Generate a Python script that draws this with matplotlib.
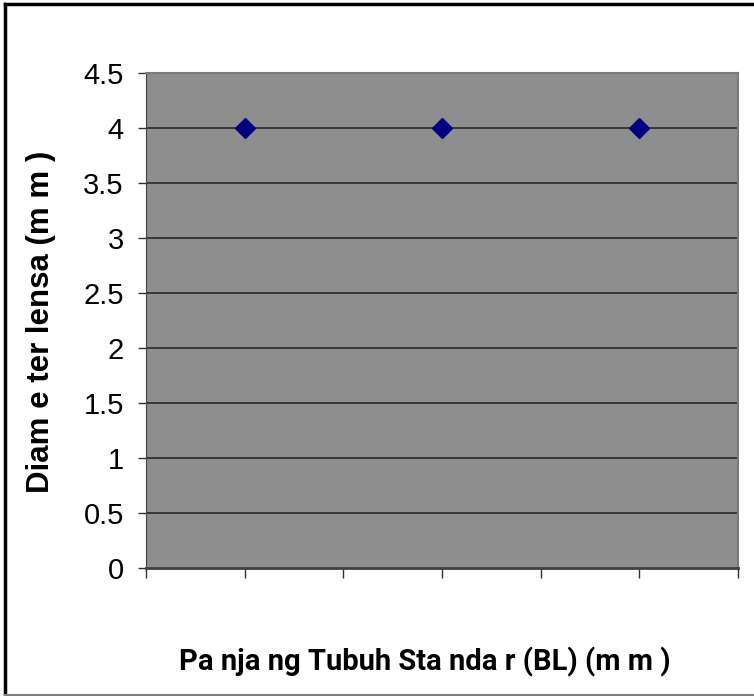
import matplotlib.pyplot as plt
from matplotlib.lines import Line2D

# data
x_pos = [1, 3, 5]
diameter = [4, 4, 4]
y_ticks = [0, 0.5, 1, 1.5, 2, 2.5, 3, 3.5, 4, 4.5]
y_labels = ["0", "0.5", "1", "1.5", "2", "2.5", "3", "3.5", "4", "4.5"]
x_ticks = [0, 1, 2, 3, 4, 5, 6]

fig = plt.figure(figsize=(7.54, 6.96), dpi=100)
ax = fig.add_axes([146 / 754, 1 - 568 / 696, (738 - 146) / 754, (568 - 73) / 696])

ax.set_facecolor("#8e8e8e")
ax.set_xlim(0, 6)
ax.set_ylim(0, 4.5)

# horizontal gridlines
for y in y_ticks[1:]:
    ax.axhline(y, color="#303030", lw=1.3, zorder=1)

ax.plot(x_pos, diameter, linestyle="none", marker="D", markersize=10,
        color="#000080", zorder=3)

ax.set_yticks(y_ticks)
ax.set_yticklabels(y_labels, fontsize=21, family="Liberation Sans")
ax.set_xticks(x_ticks)
ax.set_xticklabels([])
ax.tick_params(axis="y", direction="out", length=6, width=1, pad=10, color="#303030")
ax.tick_params(axis="x", direction="out", length=7, width=1, color="#303030")

for side in ["top", "right"]:
    ax.spines[side].set_color("#7a7a7a")
    ax.spines[side].set_linewidth(1.5)
ax.spines["left"].set_color("#404040")
ax.spines["bottom"].set_color("#404040")
ax.spines["bottom"].set_linewidth(2)

fig.text(41 / 754, 1 - 322 / 696, "Diam e ter lensa (m m )", rotation=90,
         ha="center", va="center", fontsize=22.5, fontweight="bold",
         family="Liberation Sans")
fig.text(425 / 754, 1 - 662 / 696, "Pa nja ng Tubuh Sta nda r (BL) (m m )",
         ha="center", va="center", fontsize=21, fontweight="bold",
         family=["Roboto", "Liberation Sans"])

# outer chart frame
fig.add_artist(Line2D([5 / 754, 1], [1 - 4 / 696, 1 - 4 / 696], color="black", lw=2.5))
fig.add_artist(Line2D([5 / 754, 5 / 754], [0, 1 - 4 / 696], color="black", lw=2.5))
fig.add_artist(Line2D([5 / 754, 1], [1 / 696, 1 / 696], color="#808080", lw=1.5))

fig.savefig("out.png", dpi=100)
